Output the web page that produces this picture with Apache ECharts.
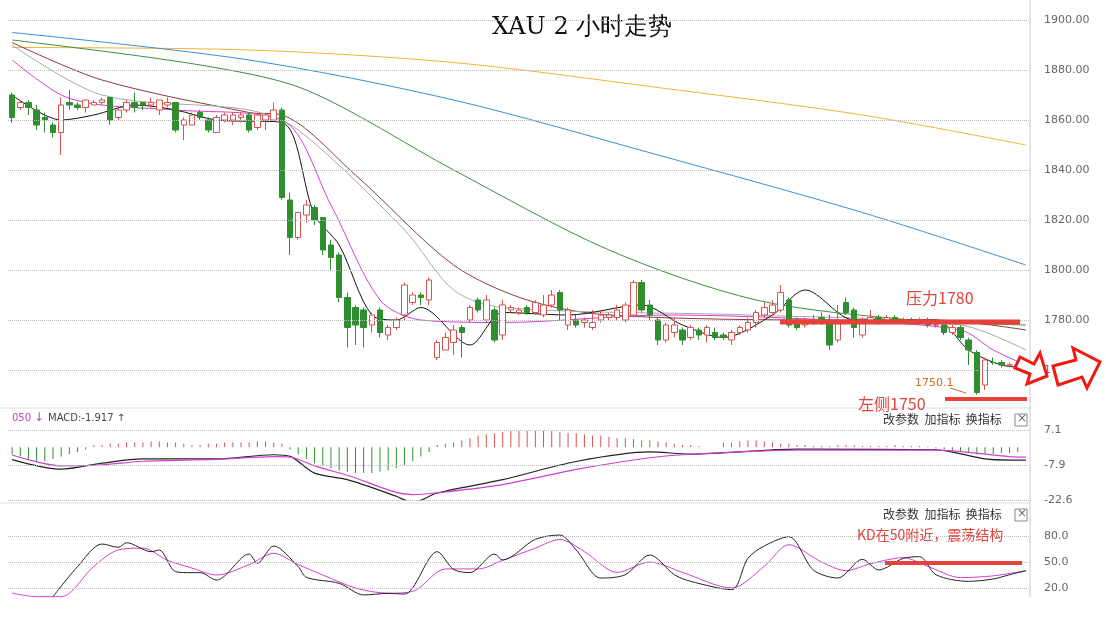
<!DOCTYPE html>
<html><head><meta charset="utf-8">
<script src="https://cdn.jsdelivr.net/npm/echarts@6/dist/echarts.min.js"></script>
<style>html,body{margin:0;padding:0;background:#fff}#c{width:1106px;height:617px}</style>
</head><body><div id="c"></div>
<script>
// ---- data ----
const N = 125;
// [open, close, low, high]
const candles = [
[1870,1861,1859,1871],[1865,1867,1864,1868],[1867,1865,1862,1868],[1864,1858,1856,1866],[1861,1860,1855,1863],
[1858,1855,1853,1859],[1855,1866,1846,1869],[1867,1866,1864,1872],[1866,1865,1864,1867],[1865,1868,1863,1868],
[1866,1867,1866,1868],[1867,1868,1866,1869],[1869,1860,1858,1869],[1861,1864,1860,1865],[1864,1867,1863,1868],
[1867,1865,1863,1871],[1867,1866,1864,1867],[1866,1867,1865,1869],[1864,1868,1862,1868],[1866,1867,1865,1869],
[1867,1856,1855,1867],[1858,1860,1852,1861],[1858,1862,1858,1863],[1863,1861,1860,1864],[1860,1856,1855,1861],
[1855,1861,1855,1862],[1860,1862,1859,1863],[1860,1862,1858,1863],[1861,1862,1859,1863],[1862,1856,1855,1863],
[1857,1862,1856,1863],[1860,1862,1856,1863],[1860,1864,1860,1867],[1864,1829,1828,1865],[1828,1813,1806,1831],
[1813,1823,1812,1823],[1822,1826,1819,1828],[1825,1820,1818,1826],[1821,1808,1806,1821],[1810,1805,1800,1812],
[1806,1789,1787,1807],[1789,1777,1769,1791],[1785,1778,1770,1786],[1784,1777,1769,1785],[1778,1782,1775,1783],
[1784,1775,1773,1785],[1774,1777,1772,1778],[1777,1780,1776,1781],[1782,1794,1780,1795],[1787,1790,1786,1791],
[1790,1789,1786,1791],[1788,1796,1786,1797],[1765,1771,1764,1772],[1768,1773,1768,1775],[1771,1776,1766,1778],
[1777,1775,1765,1778],[1780,1785,1779,1786],[1788,1784,1783,1789],[1780,1788,1779,1790],[1784,1772,1771,1785],
[1774,1786,1772,1788],[1784,1785,1783,1786],[1783,1784,1782,1785],[1785,1783,1782,1786],[1783,1787,1782,1788],
[1782,1786,1781,1790],[1786,1790,1785,1792],[1791,1784,1780,1792],[1778,1784,1776,1785],[1780,1778,1777,1782],
[1779,1780,1777,1781],[1777,1779,1776,1784],[1780,1782,1779,1784],[1781,1782,1780,1783],[1781,1784,1780,1786],
[1780,1786,1779,1787],[1782,1795,1781,1796],[1795,1784,1783,1796],[1786,1782,1780,1788],[1780,1772,1770,1781],
[1772,1778,1771,1779],[1775,1778,1773,1781],[1776,1772,1770,1777],[1773,1777,1772,1778],[1776,1774,1772,1777],
[1774,1777,1771,1778],[1775,1773,1772,1777],[1774,1773,1772,1775],[1772,1775,1770,1776],[1775,1777,1774,1778],
[1776,1779,1775,1781],[1779,1783,1777,1784],[1782,1785,1781,1787],[1783,1786,1782,1788],[1784,1791,1783,1794],
[1788,1778,1777,1789],[1779,1777,1776,1781],[1778,1780,1777,1781],[1779,1780,1778,1782],[1781,1779,1778,1783],
[1780,1770,1768,1782],[1772,1779,1771,1786],[1787,1783,1782,1789],[1784,1777,1773,1785],[1774,1780,1773,1781],
[1780,1781,1779,1784],[1781,1780,1778,1782],[1780,1781,1779,1782],[1781,1780,1779,1782],[1780,1780,1779,1781],
[1780,1779,1778,1781],[1779,1780,1778,1781],[1780,1778,1777,1781],[1778,1778,1777,1779],[1778,1775,1774,1779],
[1775,1777,1774,1778],[1777,1773,1772,1778],[1772,1768,1762,1773],[1767,1751,1750.1,1768],[1754,1764,1752,1765],
[1763,1763,1762,1765],[1763,1762,1761,1764],[1762,1762,1761,1763],[1762,1762,1761,1763]
];
// moving averages read at sample points [index, value]
const ma5   = [[0,1870],[6,1860],[10,1862],[15,1866],[20,1864],[25,1860],[33,1859],[37,1822],[40,1810],[44,1782],[47,1780],[50,1785],[56,1770],[60,1783],[68,1782],[77,1786],[82,1778],[87,1773],[93,1782],[97,1792],[103,1780],[113,1780],[117,1768],[121,1762],[124,1761]];
const ma10  = [[0,1884],[6,1870],[11,1866],[20,1864],[33,1860],[39,1826],[45,1788],[50,1780],[60,1779],[80,1782],[100,1780],[116,1776],[120,1768],[124,1762]];
const ma20  = [[0,1890],[11,1870],[29,1864],[35,1856],[48,1816],[54,1792],[60,1785],[90,1782],[116,1778],[124,1768]];
const ma30  = [[0,1891],[11,1876],[29,1863],[33,1862],[42,1838],[54,1802],[63,1788],[73,1782],[100,1780],[113,1780],[124,1776]];
const ma60  = [[0,1892],[23,1882],[36,1872],[54,1840],[73,1808],[91,1788],[110,1780],[124,1778]];
const ma120 = [[0,1895],[29,1884],[54,1868],[79,1846],[104,1823],[124,1802]];
const ma250 = [[0,1889],[29,1888],[54,1883],[79,1873],[104,1862],[124,1850]];
const mainTicks = [1760,1780,1800,1820,1840,1860,1880,1900];

const macdHist = [-3,-4,-5,-6,-6,-5,-4,-3,-2,-1,
 1,1,1.5,1.5,2,2,2,2.5,2.5,2,2,1.5,1,1,1.5,1.5,2,2,2,2,2.5,2.5,2,1.5,
 -1,-3,-5,-7,-8,-9,-10,-10.5,-11,-11,-11,-10.5,-10,-9,-8,-6,-4,-2,
 1,1.5,2,3,4,5,5.5,6,6.5,7,7,7,7,7,7,6.5,6,6,5.5,5,5,4.5,4,4,3.5,3,3,2.5,2,1.5,1,1,0.5,
 0,0,2,2,2.5,3,3,2.5,2,1.5,1.5,1,1,0.5,0.5,
 0.5,1,1,1,0.5,0.5,0.5,0.5,1,0.5,0.5,0.5,0.3,
 -0.5,-1,-1.5,-2,-2.5,-3,-3,-3,-2.5,-2.5,-2];
const dif = [[0,-5.3],[6,-9.4],[11,-6.8],[16,-5.0],[25,-5.0],[32,-3.2],[34,-3.9],[37,-11.1],[41,-13.9],[47,-21],[49,-23.7],[52,-19.6],[60,-13.9],[69,-6.1],[78,-2.0],[83,-2.9],[96,-0.8],[113,-1.1],[119,-5],[122,-5.5],[124,-5.5]];
const dea = [[0,-3.3],[6,-8],[11,-7.5],[16,-6],[25,-5.2],[32,-4],[34,-4.2],[37,-8],[41,-12],[49,-20.3],[52,-19.5],[60,-16],[69,-9.5],[78,-4.5],[83,-3],[96,-1.2],[113,-1.2],[122,-4],[124,-4.2]];
const macdTickLabels = ['-22.6','-7.9','7.1'];

const kLine = [[5,10],[8,44.6],[11,70.8],[13,67],[14,72.3],[17,61.9],[18,63.8],[20,38.8],[22,37.7],[23,37.7],[25,29.2],[29,59.2],[30,48.5],[32,68.5],[35,44.6],[36,32.3],[40,25.4],[43,12],[46,13.8],[48,13],[52,61.9],[54,41.5],[56,37.7],[59,59.2],[60,52.3],[64,76.2],[67,81.1],[69,63.8],[72,31.5],[75,35.3],[78,58.1],[81,35.3],[83,27.7],[88,18.1],[90,54.3],[92,68.5],[95,79.2],[98,40.8],[101,31.5],[104,53.1],[106,40.8],[109,54.2],[111,56.1],[113,35.3],[117,27.7],[120,30.4],[122,35.3],[124,39.9]];
const dLine = [[0,14],[3,10],[6,10],[10,45],[13,64],[16,66],[19,52],[22,43],[25,35],[29,47],[32,60],[35,47],[38,35],[42,20],[46,14],[49,16],[53,42],[57,42],[60,52],[64,66],[67,76],[70,62],[74,38],[78,50],[82,38],[88,20],[92,45],[95,70],[99,50],[102,40],[105,48],[109,55],[112,45],[116,32],[120,34],[124,40]];
const kdTicks = [20,50,80];

// ---- build ----
const cats = Array.from({length:N},(_,i)=>i);
function sparse(pts){const a=new Array(N).fill(null);pts.forEach(p=>a[p[0]]=p[1]);return a;}
function ln(name,pts,color,gi,w){return {name,type:'line',xAxisIndex:gi,yAxisIndex:gi,data:sparse(pts),connectNulls:true,smooth:0.3,showSymbol:false,symbol:'none',lineStyle:{color,width:w||1},silent:true,z:3};}
function gl(vals){return {silent:true,symbol:'none',label:{show:false},lineStyle:{type:'dotted',color:'#bbb',width:1},data:vals.map(v=>({yAxis:v}))};}

const chart = echarts.init(document.getElementById('c'));
const xa = gi => ({type:'category',gridIndex:gi,data:cats,show:false,boundaryGap:true});
const lab = {color:'#666',fontSize:11,fontFamily:'DejaVu Sans',margin:14};
chart.setOption({
 animation:false,
 grid:[{left:8,width:1022,top:20,height:400},{left:8,width:1022,top:409,height:91},{left:8,width:1022,top:510,height:104}],
 xAxis:[xa(0),xa(1),xa(2)],
 yAxis:[
  {gridIndex:0,position:'right',min:1740,max:1900,interval:20,splitLine:{show:false},axisTick:{show:false},axisLine:{show:false},
   axisLabel:Object.assign({},lab,{formatter:v=>mainTicks.includes(v)?v.toFixed(2):''})},
  {gridIndex:1,position:'right',min:-22.6,max:16.4,interval:15,splitLine:{show:false},axisTick:{show:false},axisLine:{show:false},
   axisLabel:Object.assign({},lab,{formatter:v=>{const k=Math.round((v+22.6)/15);return macdTickLabels[k]||'';}})},
  {gridIndex:2,position:'right',min:-10,max:110,interval:30,splitLine:{show:false},axisTick:{show:false},axisLine:{show:false},
   axisLabel:Object.assign({},lab,{formatter:v=>kdTicks.includes(v)?v.toFixed(1):''})}
 ],
 series:[
  {type:'candlestick',xAxisIndex:0,yAxisIndex:0,data:candles,barWidth:6,
   itemStyle:{color:'#ffffff',color0:'#2f8f2f',borderColor:'#d9534f',borderColor0:'#2f8f2f',borderWidth:1},
   markLine:gl(mainTicks),z:4},
  ln('MA250',ma250,'#f2b233',0),ln('MA120',ma120,'#3b8fd4',0),ln('MA60',ma60,'#3d8f3d',0),
  ln('MA30',ma30,'#8a3b3b',0),ln('MA20',ma20,'#a8a8a8',0),ln('MA10',ma10,'#d23fd2',0),ln('MA5',ma5,'#111',0),
  {type:'bar',xAxisIndex:1,yAxisIndex:1,data:macdHist,barWidth:1,
   itemStyle:{color:p=>p.value>=0?'#d9534f':'#2f8f2f'},markLine:gl([-22.6,-7.6,7.4]),silent:true},
  ln('DIF',dif,'#222',1,1.2),ln('DEA',dea,'#d23fd2',1,1.2),
  {type:'line',xAxisIndex:2,yAxisIndex:2,data:sparse(dLine),connectNulls:true,smooth:0.3,symbol:'none',lineStyle:{color:'#d23fd2',width:1},markLine:gl(kdTicks),silent:true},
  ln('K',kLine,'#222',2,1)
 ],
 graphic:[
  {type:'line',shape:{x1:0,y1:408,x2:1030,y2:408},style:{stroke:'#ddd',lineWidth:1}},
  {type:'line',shape:{x1:0,y1:503,x2:1030,y2:503},style:{stroke:'#ddd',lineWidth:1}},
  {type:'line',shape:{x1:1030,y1:0,x2:1030,y2:597},style:{stroke:'#ccc',lineWidth:1}},
  {type:'text',left:492,top:16,style:{text:'XAU 2 小时走势',font:'24px "DejaVu Serif", serif',fill:'#111'}},
  {type:'line',shape:{x1:780,y1:322,x2:1020,y2:322},style:{stroke:'#e8403a',lineWidth:5},z:10},
  {type:'text',left:906,top:290,style:{text:'压力1780',font:'16px "Noto Sans CJK SC"',fill:'#e0443c'},z:10},
  {type:'line',shape:{x1:945,y1:399,x2:1027,y2:399},style:{stroke:'#e8403a',lineWidth:4},z:10},
  {type:'text',left:858,top:396,style:{text:'左侧1750',font:'16px "Noto Sans CJK SC"',fill:'#e0443c'},z:10},
  {type:'text',left:915,top:378,style:{text:'1750.1',font:'11px "DejaVu Sans"',fill:'#c8701e'},z:10},
  {type:'line',shape:{x1:950,y1:388,x2:966,y2:393},style:{stroke:'#c8701e',lineWidth:1},z:10},
  {type:'polygon',shape:{points:[[1020,357],[1034,364],[1040,353],[1047,376],[1027,384],[1030,374],[1015,368]]},style:{fill:'#fff',stroke:'#f01a14',lineWidth:3},z:10},
  {type:'polygon',shape:{points:[[1053,366],[1076,360],[1073,348],[1100,362],[1087,388],[1082,377],[1058,385]]},style:{fill:'#fff',stroke:'#f01a14',lineWidth:3},z:10},
  {type:'text',left:12,top:413,style:{text:'050',font:'10px "DejaVu Sans"',fill:'#c040c0'}},
  {type:'text',left:34,top:412,style:{text:'↓',font:'12px "DejaVu Sans"',fill:'#c040c0'}},
  {type:'text',left:48,top:413,style:{text:'MACD:-1.917 ↑',font:'10px "DejaVu Sans"',fill:'#444'}},
  {type:'text',left:883,top:413,style:{text:'改参数  加指标  换指标',font:'12px "Noto Sans CJK SC"',fill:'#333'}},
  {type:'rect',shape:{x:1015,y:414,width:12,height:12},style:{fill:'#fff',stroke:'#888'}},
  {type:'text',left:1017,top:413,style:{text:'×',font:'12px "DejaVu Sans"',fill:'#666'}},
  {type:'text',left:883,top:508,style:{text:'改参数  加指标  换指标',font:'12px "Noto Sans CJK SC"',fill:'#333'}},
  {type:'rect',shape:{x:1015,y:509,width:12,height:12},style:{fill:'#fff',stroke:'#888'}},
  {type:'text',left:1017,top:508,style:{text:'×',font:'12px "DejaVu Sans"',fill:'#666'}},
  {type:'text',left:857,top:528,style:{text:'KD在50附近，震荡结构',font:'14px "Noto Sans CJK SC"',fill:'#e0443c'},z:10},
  {type:'line',shape:{x1:885,y1:563,x2:1022,y2:563},style:{stroke:'#e8403a',lineWidth:4},z:10}
 ]
});
</script></body></html>
